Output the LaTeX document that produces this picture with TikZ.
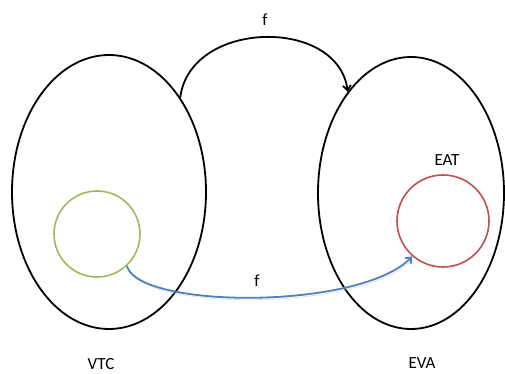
\documentclass[tikz,border=0pt]{standalone}
\usepackage{fontspec}
\setmainfont{Carlito}
\usetikzlibrary{arrows.meta,positioning,shapes.geometric}
\definecolor{setgreen}{RGB}{155,187,89}
\definecolor{setred}{RGB}{192,80,77}
\definecolor{mapblue}{RGB}{79,129,189}

\begin{document}
\begin{tikzpicture}[x=1pt,y=1pt,
  bigset/.style={ellipse,draw,line width=1.8pt,inner sep=0pt},
  subset/.style={circle,draw,line width=1.6pt,inner sep=0pt},
  lbl/.style={font=\fontsize{17}{20}\selectfont}]
  \useasboundingbox (0,0) rectangle (505,374);
  % the two sets
  \node[bigset,minimum width=194pt,minimum height=274pt] (vtc) at (109,182) {};
  \node[bigset,minimum width=186pt,minimum height=272pt] (eva) at (411,181) {};
  % subsets inside them
  \node[subset,draw=setgreen,minimum size=86pt] (sub) at (97,140) {};
  \node[subset,draw=setred,minimum size=92pt] (eat) at (443,153) {};
  % maps
  \draw[line width=1.8pt,-{Straight Barb[length=5pt,width=8pt]}]
    (vtc.53) .. controls +(10,78) and +(-10,75) .. (eva.122);
  \draw[line width=1.8pt,mapblue,-{Straight Barb[length=5pt,width=8pt]},
    preaction={draw=black!20,transform canvas={shift={(1pt,-2pt)}}}]
    (sub.-47) .. controls +(12,-43) and +(-52,-54) .. (eat.-131);
  % labels
  \node[lbl] (ftop) at (265,354) {f};
  \node[lbl] (fbot) at (257,93) {f};
  \node[lbl] (eatlbl) at (447,214) {EAT};
  \node[lbl] (vtclbl) at (101,10) {VTC};
  \node[lbl] (evalbl) at (422,11) {EVA};
\end{tikzpicture}
\end{document}
